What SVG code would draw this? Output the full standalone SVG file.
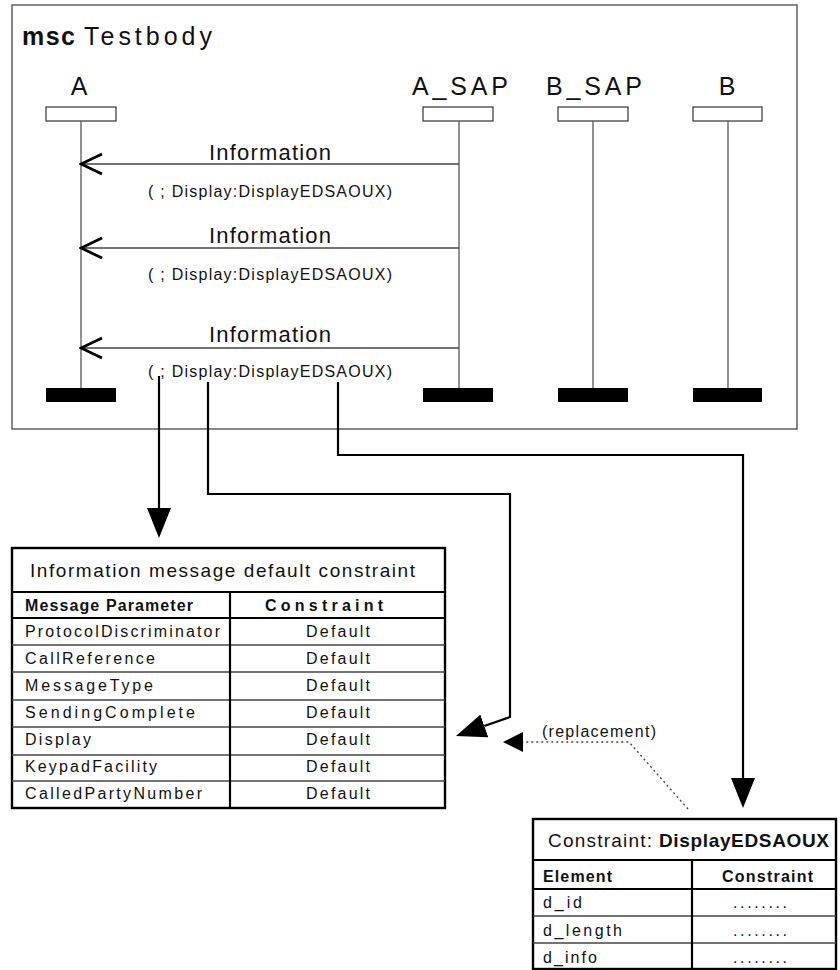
<svg xmlns="http://www.w3.org/2000/svg" width="840" height="970" viewBox="0 0 840 970">
<style>
text{font-family:"Liberation Sans",Arial,sans-serif;fill:#111}
.h24{font-size:25px}
.msg{font-size:22px}
.par{font-size:16px}
.t15{font-size:16px}
.t18{font-size:19px}
.b{font-weight:bold}
.frame{fill:none;stroke:#555;stroke-width:1.4}
.life{stroke:#555;stroke-width:1.3}
.head{fill:#fff;stroke:#333;stroke-width:1.2}
.bar{fill:#000}
.mline{stroke:#444;stroke-width:1.3;fill:none;marker-end:url(#open)}
.conn{stroke:#000;stroke-width:2.2;fill:none;marker-end:url(#tri)}
.dot{stroke:#444;stroke-width:1.3;stroke-dasharray:2 3;fill:none;marker-end:url(#tri2)}
.tout{fill:#fff;stroke:#000;stroke-width:2.4}
.tthick{stroke:#000;stroke-width:2.2}
.tthin{stroke:#444;stroke-width:1.3}
</style>
<defs>
<marker id="open" viewBox="-2 -2 25 24" refX="21" refY="10" markerWidth="25" markerHeight="24" markerUnits="userSpaceOnUse" orient="auto"><path d="M0,0 L21,10 L0,20" fill="none" stroke="#000" stroke-width="2.8"/></marker>
<marker id="tri" viewBox="0 0 30 24" refX="0" refY="12" markerWidth="30" markerHeight="24" markerUnits="userSpaceOnUse" orient="auto"><path d="M0,0 L30,12 L0,24 Z" fill="#000"/></marker>
<marker id="tri2" viewBox="0 0 20 20" refX="0" refY="10" markerWidth="20" markerHeight="20" markerUnits="userSpaceOnUse" orient="auto"><path d="M0,0 L20,10 L0,20 Z" fill="#000"/></marker>
</defs>

<g id="msc-frame">
<rect class="frame" x="12" y="5" width="785" height="424"/>
<text class="h24 b" x="22" y="45" textLength="53" lengthAdjust="spacing">msc</text>
<text class="h24" x="84" y="45" textLength="128" lengthAdjust="spacing">Testbody</text>
</g>

<g id="inst-A">
<text class="h24" x="79" y="95" text-anchor="middle">A</text>
<rect class="head" x="46" y="107" width="70" height="14"/>
<line class="life" x1="81" y1="121" x2="81" y2="388"/>
<rect class="bar" x="46" y="388" width="70" height="14"/>
</g>
<g id="inst-A_SAP">
<text class="h24" x="412" y="95" textLength="96" lengthAdjust="spacing">A_SAP</text>
<rect class="head" x="423" y="107" width="70" height="14"/>
<line class="life" x1="459" y1="121" x2="459" y2="388"/>
<rect class="bar" x="423" y="388" width="70" height="14"/>
</g>
<g id="inst-B_SAP">
<text class="h24" x="546" y="95" textLength="96" lengthAdjust="spacing">B_SAP</text>
<rect class="head" x="558" y="107" width="70" height="14"/>
<line class="life" x1="593" y1="121" x2="593" y2="388"/>
<rect class="bar" x="558" y="388" width="70" height="14"/>
</g>
<g id="inst-B">
<text class="h24" x="727" y="95" text-anchor="middle">B</text>
<rect class="head" x="693" y="107" width="69" height="14"/>
<line class="life" x1="728" y1="121" x2="728" y2="388"/>
<rect class="bar" x="693" y="388" width="69" height="14"/>
</g>

<g id="messages">
<line class="mline" x1="459" y1="164" x2="81" y2="164"/>
<text class="msg" x="209" y="160" textLength="122" lengthAdjust="spacing">Information</text>
<text class="par" x="148" y="197" textLength="244" lengthAdjust="spacing">( ; Display:DisplayEDSAOUX)</text>
<line class="mline" x1="459" y1="248" x2="81" y2="248"/>
<text class="msg" x="209" y="243" textLength="122" lengthAdjust="spacing">Information</text>
<text class="par" x="148" y="280" textLength="244" lengthAdjust="spacing">( ; Display:DisplayEDSAOUX)</text>
<line class="mline" x1="459" y1="348" x2="81" y2="348"/>
<text class="msg" x="209" y="342" textLength="122" lengthAdjust="spacing">Information</text>
<text class="par" x="148" y="377" textLength="244" lengthAdjust="spacing">( ; Display:DisplayEDSAOUX)</text>
</g>

<g id="connectors">
<path class="conn" d="M159,376 V508"/>
<path class="conn" d="M208,382 V494 H510 V717 L484.3,726"/>
<path class="conn" d="M338,382 V455 H743 V778"/>
<path class="dot" d="M688,809 L629,742 H523"/>
<text class="t15" x="542" y="737" textLength="114" lengthAdjust="spacing">(replacement)</text>
</g>

<g id="table-information-default">
<rect class="tout" x="12" y="548" width="433" height="260"/>
<line class="tthick" x1="12" y1="592" x2="445" y2="592"/>
<line class="tthick" x1="12" y1="618" x2="445" y2="618"/>
<line class="tthin" x1="12" y1="645" x2="445" y2="645"/>
<line class="tthin" x1="12" y1="672" x2="445" y2="672"/>
<line class="tthin" x1="12" y1="700" x2="445" y2="700"/>
<line class="tthin" x1="12" y1="727" x2="445" y2="727"/>
<line class="tthin" x1="12" y1="755" x2="445" y2="755"/>
<line class="tthin" x1="12" y1="781" x2="445" y2="781"/>
<line class="tthick" x1="230" y1="592" x2="230" y2="808"/>
<text class="t18" x="30" y="577" textLength="385" lengthAdjust="spacing">Information message default constraint</text>
<text class="t15 b" x="25" y="611" textLength="168" lengthAdjust="spacing">Message Parameter</text>
<text class="t15 b" x="265" y="611" textLength="118" lengthAdjust="spacing">Constraint</text>
<text class="t15" x="25" y="637" textLength="195" lengthAdjust="spacing">ProtocolDiscriminator</text>
<text class="t15" x="25" y="664" textLength="130" lengthAdjust="spacing">CallReference</text>
<text class="t15" x="25" y="691" textLength="128" lengthAdjust="spacing">MessageType</text>
<text class="t15" x="25" y="718" textLength="170" lengthAdjust="spacing">SendingComplete</text>
<text class="t15" x="25" y="745" textLength="66" lengthAdjust="spacing">Display</text>
<text class="t15" x="25" y="772" textLength="132" lengthAdjust="spacing">KeypadFacility</text>
<text class="t15" x="25" y="799" textLength="177" lengthAdjust="spacing">CalledPartyNumber</text>
<text class="t15" x="306" y="637" textLength="64" lengthAdjust="spacing">Default</text>
<text class="t15" x="306" y="664" textLength="64" lengthAdjust="spacing">Default</text>
<text class="t15" x="306" y="691" textLength="64" lengthAdjust="spacing">Default</text>
<text class="t15" x="306" y="718" textLength="64" lengthAdjust="spacing">Default</text>
<text class="t15" x="306" y="745" textLength="64" lengthAdjust="spacing">Default</text>
<text class="t15" x="306" y="772" textLength="64" lengthAdjust="spacing">Default</text>
<text class="t15" x="306" y="799" textLength="64" lengthAdjust="spacing">Default</text>
</g>

<g id="table-displayedsaoux">
<rect class="tout" x="533" y="819" width="303" height="150"/>
<line class="tthick" x1="533" y1="860" x2="836" y2="860"/>
<line class="tthick" x1="533" y1="889" x2="836" y2="889"/>
<line class="tthin" x1="533" y1="916" x2="836" y2="916"/>
<line class="tthin" x1="533" y1="943" x2="836" y2="943"/>
<line class="tthick" x1="692" y1="860" x2="692" y2="969"/>
<text class="t18" x="548" y="847" textLength="104" lengthAdjust="spacing">Constraint:</text>
<text class="t18 b" x="659" y="847" textLength="170" lengthAdjust="spacing">DisplayEDSAOUX</text>
<text class="t15 b" x="543" y="882" textLength="69" lengthAdjust="spacing">Element</text>
<text class="t15 b" x="722" y="882" textLength="91" lengthAdjust="spacing">Constraint</text>
<text class="t15" x="543" y="908" textLength="39" lengthAdjust="spacing">d_id</text>
<text class="t15" x="543" y="936" textLength="79" lengthAdjust="spacing">d_length</text>
<text class="t15" x="543" y="963" textLength="54" lengthAdjust="spacing">d_info</text>
<text class="t15" x="733" y="908" textLength="54" lengthAdjust="spacing">........</text>
<text class="t15" x="733" y="936" textLength="54" lengthAdjust="spacing">........</text>
<text class="t15" x="733" y="963" textLength="54" lengthAdjust="spacing">........</text>
</g>
</svg>
